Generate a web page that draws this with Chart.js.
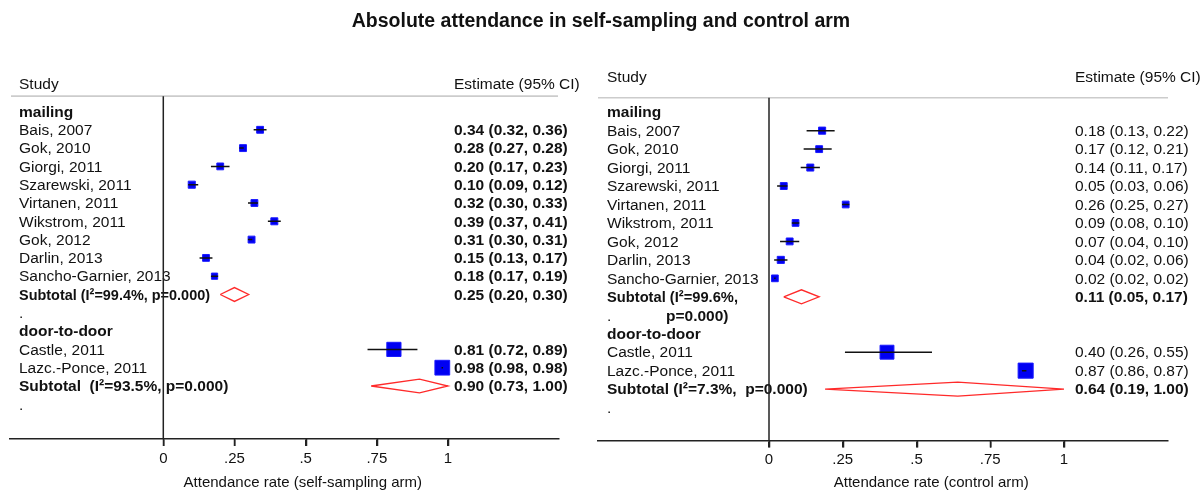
<!DOCTYPE html>
<html>
<head>
<meta charset="utf-8">
<script src="https://cdn.jsdelivr.net/npm/chart.js@4.4.0/dist/chart.umd.min.js"></script>
<style>
  html, body { margin: 0; padding: 0; background: #fff; }
  body { width: 1202px; height: 491px; position: relative; overflow: hidden; font-family: 'Liberation Sans', Arial, sans-serif; }
  #title { position: absolute; left: 0; width: 1202px; top: 9px; text-align: center; font-weight: bold; font-size: 19.5px; color: #111; z-index: 3; }
  .panel { position: absolute; top: 0; height: 491px; }
  #left { left: -20px; width: 618px; }
  #right { left: 578px; width: 624px; }
</style>
</head>
<body>
<div id="title">Absolute attendance in self-sampling and control arm</div>
<div class="panel" id="left"><canvas id="leftChart" width="618" height="491"></canvas></div>
<div class="panel" id="right"><canvas id="rightChart" width="624" height="491"></canvas></div>
<script>
// --- DATA ---
const groups = ['mailing', 'door-to-door'];
const studies = ['Bais, 2007', 'Gok, 2010', 'Giorgi, 2011', 'Szarewski, 2011', 'Virtanen, 2011',
                 'Wikstrom, 2011', 'Gok, 2012', 'Darlin, 2013', 'Sancho-Garnier, 2013',
                 'Castle, 2011', 'Lazc.-Ponce, 2011'];
const studyGroup = [0, 0, 0, 0, 0, 0, 0, 0, 0, 1, 1];

// self-sampling arm
const selfEst = [0.34, 0.28, 0.20, 0.10, 0.32, 0.39, 0.31, 0.15, 0.18, 0.81, 0.98];
const selfLo  = [0.32, 0.27, 0.17, 0.09, 0.30, 0.37, 0.30, 0.13, 0.17, 0.72, 0.98];
const selfHi  = [0.36, 0.28, 0.23, 0.12, 0.33, 0.41, 0.31, 0.17, 0.19, 0.89, 0.98];
const selfWeight = [11.2, 11.4, 11.0, 12.0, 11.2, 11.6, 11.3, 11.1, 9.2, 48.0, 52.0];
const selfSubEst = [0.25, 0.90];
const selfSubLo  = [0.20, 0.73];
const selfSubHi  = [0.30, 1.00];
const selfSubLabel = [['Subtotal (I\u00b2=99.4%, p=0.000)'], ['Subtotal  (I\u00b2=93.5%, p=0.000)']];

// control arm
const ctrlEst = [0.18, 0.17, 0.14, 0.05, 0.26, 0.09, 0.07, 0.04, 0.02, 0.40, 0.87];
const ctrlLo  = [0.13, 0.12, 0.11, 0.03, 0.25, 0.08, 0.04, 0.02, 0.02, 0.26, 0.86];
const ctrlHi  = [0.22, 0.21, 0.17, 0.06, 0.27, 0.10, 0.10, 0.06, 0.02, 0.55, 0.87];
const ctrlWeight = [12.0, 11.2, 11.6, 11.2, 10.8, 10.8, 11.2, 12.0, 10.8, 46.0, 54.0];
const ctrlSubEst = [0.11, 0.64];
const ctrlSubLo  = [0.05, 0.19];
const ctrlSubHi  = [0.17, 1.00];
const ctrlSubLabel = [['Subtotal (I\u00b2=99.6%,', 'p=0.000)'], ['Subtotal (I\u00b2=7.3%,  p=0.000)']];

const tickValues = [0, 0.25, 0.5, 0.75, 1];
const tickLabels = ['0', '.25', '.5', '.75', '1'];

const FONT = "'Liberation Sans', Arial, sans-serif";
const fmt = v => v.toFixed(2);

// --- ROW LAYOUT (group header, studies, subtotal, blank '.') ---
function buildRows() {
    const rows = [];
    let r = 0;
    groups.forEach((g, gi) => {
        rows.push({ type: 'group', g: gi, row: r++ });
        studies.forEach((s, si) => {
            if (studyGroup[si] === gi) rows.push({ type: 'study', i: si, row: r++ });
        });
        rows.push({ type: 'sub', g: gi, row: r++ });
        rows.push({ type: 'dot', g: gi, row: r++ });
    });
    return rows;
}
const rows = buildRows();
const studyRow = i => rows.find(o => o.type === 'study' && o.i === i).row;
const subRow = g => rows.find(o => o.type === 'sub' && o.g === g).row;

// all x positions in p are page pixels; cx() converts them to canvas pixels
function makePanel(canvasId, p) {
    const cx = x => x - p.canvasX;
    const axisRow = (p.axisY - p.y0) / p.rowH;
    const topPad = p.y0 - 3 * p.rowH;
    const xmin = (p.areaLeft - p.zeroPx) / p.unitPx;
    const xmax = (p.areaRight - p.zeroPx) / p.unitPx;

    // CI whiskers, one segment per study
    const ciData = [];
    studies.forEach((s, i) => {
        ciData.push({ x: p.lo[i], y: studyRow(i) }, { x: p.hi[i], y: studyRow(i) }, { x: null, y: null });
    });
    const boxData = studies.map((s, i) => ({ x: p.est[i], y: studyRow(i) }));
    const boxRadius = p.weight.map(w => 2.05 * Math.sqrt(w) / Math.SQRT2);
    const dia = [];
    groups.forEach((g, gi) => {
        const r = subRow(gi), h = 0.38;
        dia.push({ x: p.subLo[gi], y: r }, { x: p.subEst[gi], y: r - h }, { x: p.subHi[gi], y: r },
                 { x: p.subEst[gi], y: r + h }, { x: p.subLo[gi], y: r }, { x: null, y: null });
    });

    const textPlugin = {
        id: 'forestText',
        afterDatasetsDraw(chart) {
            const ctx = chart.ctx;
            const xs = chart.scales.x, ys = chart.scales.y;
            const yAt = r => ys.getPixelForValue(r);
            ctx.save();
            ctx.fillStyle = '#111';
            ctx.textBaseline = 'middle';
            ctx.textAlign = 'left';
            const txt = (s, x, y, bold, maxW) => {
                ctx.font = (bold ? 'bold ' : '') + '15.5px ' + FONT;
                if (maxW) ctx.fillText(s, cx(x), y + 1, maxW);
                else ctx.fillText(s, cx(x), y + 1);
            };
            // header
            txt('Study', p.studyX, yAt(p.headRow), false);
            txt('Estimate (95% CI)', p.estX, yAt(p.headRow), false);
            ctx.strokeStyle = '#cccccc';
            ctx.lineWidth = 1.6;
            ctx.beginPath();
            ctx.moveTo(cx(p.lineL), yAt(p.lineRow));
            ctx.lineTo(cx(p.lineR), yAt(p.lineRow));
            ctx.stroke();

            rows.forEach(o => {
                const y = yAt(o.row);
                if (o.type === 'group') txt(groups[o.g], p.studyX, y, true);
                if (o.type === 'study') {
                    txt(studies[o.i], p.studyX, y, false);
                    txt(fmt(p.est[o.i]) + ' (' + fmt(p.lo[o.i]) + ', ' + fmt(p.hi[o.i]) + ')', p.estX, y, p.boldEst);
                }
                if (o.type === 'sub') {
                    const lab = p.subLabel[o.g];
                    txt(lab[0], p.studyX, y, true, p.subMaxW[o.g]);
                    if (lab[1]) txt(lab[1], p.wrapX, yAt(o.row + 1), true);
                    txt(fmt(p.subEst[o.g]) + ' (' + fmt(p.subLo[o.g]) + ', ' + fmt(p.subHi[o.g]) + ')', p.estX, y, true);
                }
                if (o.type === 'dot') txt('.', p.studyX, y, false);
            });

            // line of zero
            ctx.strokeStyle = '#222';
            ctx.lineWidth = 1.5;
            ctx.beginPath();
            ctx.moveTo(xs.getPixelForValue(0), yAt(p.lineRow));
            ctx.lineTo(xs.getPixelForValue(0), yAt(axisRow));
            ctx.stroke();

            // tick marks below the axis
            ctx.beginPath();
            tickValues.forEach(v => {
                const px = Math.round(xs.getPixelForValue(v)) + 0.5;
                ctx.moveTo(px, chart.chartArea.bottom);
                ctx.lineTo(px, chart.chartArea.bottom + 7);
            });
            ctx.stroke();

            // axis title
            ctx.font = '15px ' + FONT;
            ctx.textAlign = 'center';
            ctx.fillText(p.axisTitle, xs.getPixelForValue(p.titleAt), p.titleY);
            ctx.restore();
        }
    };

    return new Chart(document.getElementById(canvasId), {
        type: 'scatter',
        data: {
            datasets: [
                { data: ciData, showLine: true, borderColor: '#111', borderWidth: 1.5, borderCapStyle: 'square',
                  pointRadius: 0, order: 0 },
                { data: boxData, pointStyle: 'rect', pointRadius: boxRadius, backgroundColor: '#0000f2',
                  borderColor: '#1a1aff', borderWidth: 1, order: 1 },
                { data: dia, showLine: true, borderColor: '#ff2a2a', borderWidth: 1.3, pointRadius: 0,
                  fill: false, tension: 0, order: 2 }
            ]
        },
        options: {
            responsive: false,
            animation: false,
            devicePixelRatio: 1,
            layout: { padding: { top: topPad, left: cx(p.areaLeft), right: p.canvasW - cx(p.areaRight), bottom: 0 } },
            plugins: { legend: { display: false }, tooltip: { enabled: false }, title: { display: false } },
            scales: {
                x: {
                    type: 'linear', min: xmin, max: xmax,
                    afterBuildTicks: s => { s.ticks = tickValues.map(v => ({ value: v })); },
                    afterFit: s => { s.height = 491 - p.axisY; },
                    ticks: { autoSkip: false, maxRotation: 0, padding: p.tickPad, color: '#111',
                             font: { family: FONT, size: 15 }, callback: (v, i) => tickLabels[i] },
                    grid: { display: true, drawOnChartArea: false, drawTicks: true, tickLength: 7, color: '#222', lineWidth: 1.5 },
                    border: { display: true, color: '#222', width: 1.5 }
                },
                y: { type: 'linear', reverse: true, min: -3, max: axisRow, display: false }
            }
        },
        plugins: [textPlugin]
    });
}

makePanel('leftChart', {
    est: selfEst, lo: selfLo, hi: selfHi, weight: selfWeight,
    subEst: selfSubEst, subLo: selfSubLo, subHi: selfSubHi, subLabel: selfSubLabel, subMaxW: [191, 0],
    axisTitle: 'Attendance rate (self-sampling arm)', boldEst: true,
    canvasX: -20, canvasW: 618, areaLeft: 10, areaRight: 559, zeroPx: 163.3, unitPx: 284.7,
    y0: 111.5, rowH: 18.3, axisY: 439, headRow: -1.5, lineRow: -0.84,
    studyX: 19, estX: 454, wrapX: 0, lineL: 11, lineR: 558, tickPad: 4, titleAt: 0.49, titleY: 483
});

makePanel('rightChart', {
    est: ctrlEst, lo: ctrlLo, hi: ctrlHi, weight: ctrlWeight,
    subEst: ctrlSubEst, subLo: ctrlSubLo, subHi: ctrlSubHi, subLabel: ctrlSubLabel, subMaxW: [131, 0],
    axisTitle: 'Attendance rate (control arm)', boldEst: false,
    canvasX: 578, canvasW: 624, areaLeft: 598, areaRight: 1168, zeroPx: 769, unitPx: 295,
    y0: 112.2, rowH: 18.46, axisY: 440.5, headRow: -1.93, lineRow: -0.78,
    studyX: 607, estX: 1075, wrapX: 666, lineL: 598, lineR: 1168, tickPad: 3, titleAt: 0.55, titleY: 483
});
</script>
</body>
</html>
